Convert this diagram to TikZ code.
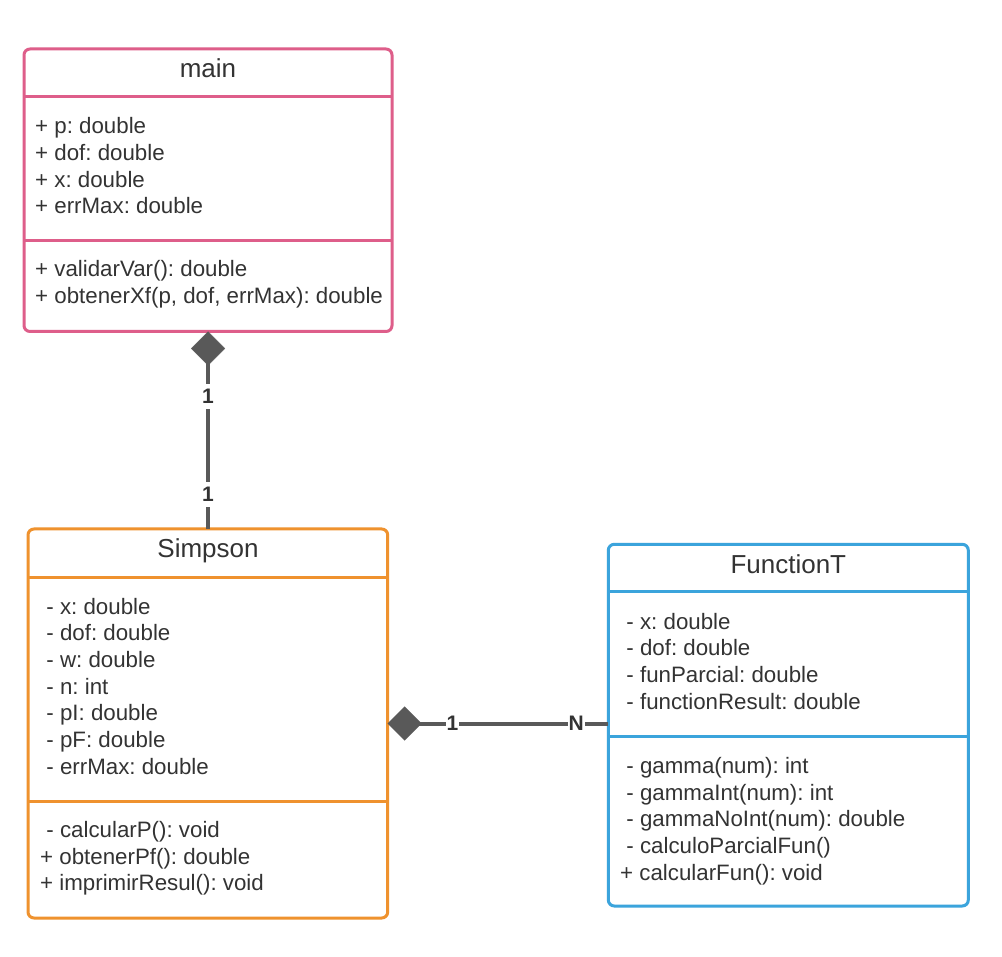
\documentclass[tikz,border=0pt]{standalone}
\usepackage{fontspec}
\setmainfont{Liberation Sans}
\usetikzlibrary{arrows.meta}

\definecolor{ink}{HTML}{333333}
\definecolor{linkgray}{HTML}{595959}
\definecolor{umlpink}{HTML}{DE5E8A}
\definecolor{umlorange}{HTML}{EF922E}
\definecolor{umlblue}{HTML}{3BA4DC}

\newcommand{\ind}{\hspace*{0.28em}}
\frenchspacing

\tikzset{
  classbox/.style={draw=#1, line width=3pt, rounded corners=6pt, fill=white,
    anchor=north west, inner sep=0pt, outer sep=0pt},
  divider/.style={draw=#1, line width=3pt},
  classname/.style={anchor=base, inner sep=0pt, text=ink,
    font=\fontsize{26}{31}\selectfont},
  member/.style={anchor=base west, inner sep=0pt, text=ink,
    font=\fontsize{22.3}{26.6}\selectfont},
  link/.style={draw=linkgray, line width=4pt},
  composite/.style={{Diamond[length=34pt,width=34pt,line width=0.1pt]}-},
  mult/.style={fill=white, text=ink, inner xsep=1pt, inner ysep=5pt,
    font=\fontsize{21}{24}\selectfont\bfseries},
}

\begin{document}
\begin{tikzpicture}[x=1pt,y=-1pt]
  \useasboundingbox[fill=white] (0,0) rectangle (1002,957);

  % ---------- class main ----------
  \node[classbox=umlpink, minimum width=368pt, minimum height=282.5pt] (main) at (24,49) {};
  \draw[divider=umlpink] (main.west |- 0,97) -- (main.east |- 0,97);
  \draw[divider=umlpink] (main.west |- 0,241) -- (main.east |- 0,241);
  \node[classname] (mainT) at (208,78) {main};
  \foreach \t [count=\i] in {{+ p: double},{+ dof: double},{+ x: double},{+ errMax: double}}
    \node[member] (mainA\i) at (35,{134+26.6*(\i-1)}) {\t};
  \foreach \t [count=\i] in {{+ validarVar(): double},{+ obtenerXf(p, dof, errMax): double}}
    \node[member] (mainM\i) at (35,{277+26.6*(\i-1)}) {\t};

  % ---------- class Simpson ----------
  \node[classbox=umlorange, minimum width=359.7pt, minimum height=389pt] (simpson) at (28,529) {};
  \draw[divider=umlorange] (simpson.west |- 0,577) -- (simpson.east |- 0,577);
  \draw[divider=umlorange] (simpson.west |- 0,801.5) -- (simpson.east |- 0,801.5);
  \node[classname] (simpsonT) at (208,558) {Simpson};
  \foreach \t [count=\i] in {{\ind- x: double},{\ind- dof: double},{\ind- w: double},{\ind- n: int},
      {\ind- pI: double},{\ind- pF: double},{\ind- errMax: double}}
    \node[member] (simpsonA\i) at (40,{614+26.67*(\i-1)}) {\t};
  \foreach \t [count=\i] in {{\ind- calcularP(): void},{+ obtenerPf(): double},{+ imprimirResul(): void}}
    \node[member] (simpsonM\i) at (40,{837.5+26.67*(\i-1)}) {\t};

  % ---------- class FunctionT ----------
  \node[classbox=umlblue, minimum width=360pt, minimum height=361.7pt] (functiont) at (608.3,544.3) {};
  \draw[divider=umlblue] (functiont.west |- 0,591.5) -- (functiont.east |- 0,591.5);
  \draw[divider=umlblue] (functiont.west |- 0,736.5) -- (functiont.east |- 0,736.5);
  \node[classname] (functiontT) at (788.3,573) {FunctionT};
  \foreach \t [count=\i] in {{\ind- x: double},{\ind- dof: double},{\ind- funParcial: double},
      {\ind- functionResult: double}}
    \node[member] (functiontA\i) at (620,{629+26.67*(\i-1)}) {\t};
  \foreach \t [count=\i] in {{\ind- gamma(num): int},{\ind- gammaInt(num): int},
      {\ind- gammaNoInt(num): double},{\ind- calculoParcialFun()},{+ calcularFun(): void}}
    \node[member] (functiontM\i) at (620,{773.5+26.67*(\i-1)}) {\t};

  % ---------- associations ----------
  \draw[link, composite] (main.south) -- (main.south |- simpson.north)
    node[mult, pos=0.33] (m1) {1}
    node[mult, pos=0.825] (m2) {1};
  \draw[link, composite] (simpson.east) -- (simpson.east -| functiont.west)
    node[mult, pos=0.293] (m3) {1}
    node[mult, pos=0.855] (m4) {N};
\end{tikzpicture}
\end{document}
